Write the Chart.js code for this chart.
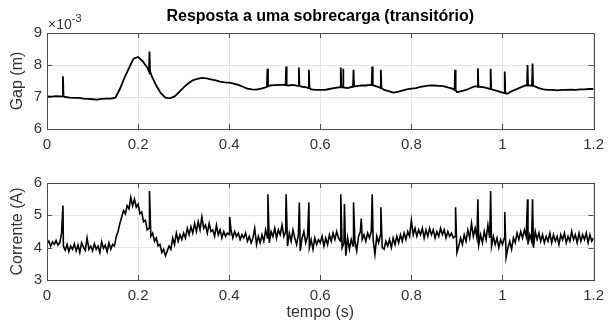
<!DOCTYPE html>
<html>
<head>
<meta charset="utf-8">
<script src="https://cdn.jsdelivr.net/npm/chart.js@4.4.1/dist/chart.umd.min.js"></script>
<style>
  html, body { margin: 0; padding: 0; background: #fff; }
  #wrap { position: relative; width: 611px; height: 329px; overflow: hidden; background: #fff; }
  #gapCanvas { position: absolute; left: 0; top: 0; }
  #currentCanvas { position: absolute; left: 0; top: 150px; }
</style>
</head>
<body>
<div id="wrap">
  <canvas id="gapCanvas" width="611" height="160"></canvas>
  <canvas id="currentCanvas" width="611" height="179"></canvas>
</div>
<script>
// ---- Data -------------------------------------------------------------
const xTicks = [0, 0.2, 0.4, 0.6, 0.8, 1, 1.2];
const gapTicks = [6, 7, 8, 9];        // x 10^-3 m
const currentTicks = [3, 4, 5, 6];    // A

// Air gap (x 10^-3 m), sampled every 10 ms from 0 to 1.2 s
const gapStep = 0.01;
const gapBase = [
  7.02, 7.01, 7.03, 7.02, 7.00, 6.98, 6.97, 6.97, 6.95, 6.94,
  6.93, 6.92, 6.94, 6.95, 6.95, 6.98, 7.25, 7.60, 7.90, 8.20,
  8.25, 8.12, 7.92, 7.65, 7.35, 7.12, 6.98, 6.96, 7.02, 7.15,
  7.30, 7.42, 7.52, 7.57, 7.60, 7.58, 7.55, 7.52, 7.48, 7.46,
  7.45, 7.42, 7.38, 7.32, 7.26, 7.24, 7.23, 7.26, 7.30, 7.36,
  7.37, 7.38, 7.38, 7.36, 7.38, 7.35, 7.32, 7.30, 7.24, 7.22,
  7.22, 7.22, 7.25, 7.28, 7.30, 7.30, 7.28, 7.32, 7.34, 7.36,
  7.36, 7.38, 7.35, 7.30, 7.22, 7.18, 7.14, 7.16, 7.20, 7.24,
  7.26, 7.28, 7.32, 7.34, 7.36, 7.36, 7.35, 7.34, 7.30, 7.26,
  7.15, 7.18, 7.22, 7.28, 7.34, 7.32, 7.30, 7.26, 7.22, 7.18,
  7.14, 7.10, 7.18, 7.24, 7.30, 7.36, 7.36, 7.34, 7.28, 7.24,
  7.22, 7.22, 7.21, 7.22, 7.22, 7.23, 7.22, 7.24, 7.24, 7.25, 7.25
];
// Short gap spikes: time (s), level at the foot, peak level
const gapSpikeTimes = [0.035, 0.225, 0.484, 0.525, 0.553, 0.575, 0.645, 0.650, 0.673, 0.714, 0.733, 0.896, 0.946, 0.974, 1.005, 1.055, 1.066];
const gapSpikeFoot  = [7.02, 7.80, 7.33, 7.37, 7.35, 7.28, 7.30, 7.30, 7.33, 7.37, 7.28, 7.22, 7.32, 7.25, 7.12, 7.36, 7.35];
const gapSpikePeak  = [7.65, 8.42, 7.88, 7.95, 7.92, 7.85, 7.92, 7.88, 7.85, 7.95, 7.85, 7.85, 7.90, 7.88, 7.80, 8.00, 8.05];

// Coil current (A), sampled every 4 ms from 0 to 1.2 s
const currentStep = 0.004;
const currentBase = [
  4.12, 4.20, 4.05, 4.18, 4.10, 4.22, 4.08, 4.15, 4.45, 4.05, 3.92, 4.10, 3.88, 4.05, 3.95, 4.12, 3.90, 4.08, 3.85, 4.15, 4.02, 3.92, 4.30, 3.95, 4.05,
  3.90, 4.12, 3.95, 4.05, 3.85, 4.18, 3.98, 4.08, 3.88, 4.15, 3.95, 4.10, 4.05, 4.35, 4.50, 4.75, 4.95, 5.15, 5.05, 5.30, 5.20, 5.55, 5.30, 5.50, 5.25,
  5.35, 5.05, 5.10, 4.80, 4.85, 4.55, 4.60, 4.35, 4.45, 4.20, 4.30, 4.05, 4.10, 3.85, 3.95, 3.75, 3.90, 4.05, 3.95, 4.30, 4.10, 4.45, 4.20, 4.40, 4.25,
  4.45, 4.30, 4.60, 4.40, 4.65, 4.45, 4.75, 4.50, 4.80, 4.55, 4.95, 4.60, 4.70, 4.45, 4.75, 4.50, 4.55, 4.35, 4.70, 4.40, 4.55, 4.30, 4.50, 4.35, 4.45,
  4.40, 4.55, 4.30, 4.50, 4.35, 4.45, 4.25, 4.40, 4.30, 4.45, 4.20, 4.35, 4.15, 4.30, 4.60, 4.10, 4.35, 4.15, 4.40, 4.20, 4.55, 4.30, 4.15, 4.50, 4.35,
  4.60, 4.30, 4.55, 4.40, 4.70, 4.35, 4.50, 4.05, 4.45, 4.20, 4.55, 4.30, 4.10, 4.40, 3.90, 4.30, 4.50, 4.15, 4.35, 4.00, 4.25, 3.95, 4.30, 4.10, 4.25,
  4.15, 4.35, 4.05, 4.30, 4.10, 4.40, 4.20, 4.45, 4.25, 4.50, 4.30, 4.20, 4.00, 4.15, 3.75, 4.30, 3.95, 4.25, 4.05, 4.20, 3.90, 4.35, 4.50, 4.25, 4.40,
  4.20, 4.45, 4.30, 4.50, 4.25, 3.80, 4.35, 4.15, 4.40, 4.00, 3.95, 4.20, 4.05, 4.25, 4.00, 4.30, 4.10, 4.35, 4.15, 4.40, 4.20, 4.45, 4.25, 4.50, 4.35,
  4.85, 4.40, 4.60, 4.35, 4.55, 4.40, 4.60, 4.30, 4.55, 4.35, 4.60, 4.40, 4.55, 4.30, 4.50, 4.35, 4.60, 4.40, 4.55, 4.30, 4.50, 4.35, 4.45, 4.30, 4.35,
  3.85, 4.05, 4.30, 4.10, 4.40, 4.20, 4.55, 4.30, 4.75, 4.35, 4.60, 4.30, 4.10, 4.40, 4.15, 4.50, 4.25, 4.70, 4.30, 4.05, 4.35, 4.10, 4.30, 4.00, 4.25,
  4.10, 4.30, 3.70, 4.00, 4.20, 3.95, 4.30, 4.15, 4.45, 4.25, 4.50, 4.30, 4.55, 4.35, 4.10, 4.40, 4.20, 4.00, 4.50, 4.25, 4.45, 4.20, 4.40, 4.15, 4.35,
  4.20, 4.45, 4.15, 4.40, 4.20, 4.35, 4.10, 4.40, 4.25, 4.45, 4.15, 4.35, 4.20, 4.50, 4.25, 4.40, 4.15, 4.45, 4.20, 4.40, 4.25, 4.45, 4.15, 4.40, 4.20, 4.30
];
// Current spikes: time (s), peak level (A)
const currentSpikeTimes = [0.035, 0.225, 0.401, 0.485, 0.525, 0.554, 0.575, 0.645, 0.653, 0.673, 0.690, 0.714, 0.733, 0.897, 0.946, 0.974, 1.005, 1.055, 1.066];
const currentSpikePeak  = [5.30, 5.75, 4.95, 5.65, 5.65, 5.40, 5.40, 5.65, 5.35, 5.40, 4.90, 5.65, 5.25, 5.25, 5.50, 5.75, 5.10, 5.50, 5.50];

// ---- Series assembly ------------------------------------------------------
function gapSeries() {
  const pts = gapBase.map((v, i) => ({ x: +(i * gapStep).toFixed(4), y: v }));
  gapSpikeTimes.forEach((t, i) => {
    pts.push({ x: t - 0.0012, y: gapSpikeFoot[i] });
    pts.push({ x: t, y: gapSpikePeak[i] });
    pts.push({ x: t + 0.0012, y: gapSpikeFoot[i] });
  });
  return pts.sort((a, b) => a.x - b.x);
}
function currentSeries() {
  const pts = currentBase.map((v, i) => ({ x: +(i * currentStep).toFixed(4), y: v }));
  currentSpikeTimes.forEach((t, i) => pts.push({ x: t, y: currentSpikePeak[i] }));
  return pts.sort((a, b) => a.x - b.x);
}

// ---- Styling helpers ----------------------------------------------------
const FONT = '"Liberation Sans", Arial, Helvetica, sans-serif';
const TICK_COLOR = '#333333';
const GRID_COLOR = '#e3e3e3';
const FRAME_COLOR = '#4d4d4d';

// Box around the axes plus inward tick marks on all four sides
const frameBox = {
  id: 'frameBox',
  afterDraw(chart, args, opts) {
    const { ctx, chartArea: a, scales } = chart;
    ctx.save();
    ctx.strokeStyle = FRAME_COLOR;
    ctx.lineWidth = 1;
    const L = 5;
    ctx.beginPath();
    scales.x.ticks.forEach(t => {
      const px = Math.round(scales.x.getPixelForValue(t.value)) + 0.5;
      ctx.moveTo(px, a.bottom); ctx.lineTo(px, a.bottom - L);
      ctx.moveTo(px, a.top); ctx.lineTo(px, a.top + L);
    });
    scales.y.ticks.forEach(t => {
      const py = Math.round(scales.y.getPixelForValue(t.value)) + 0.5;
      ctx.moveTo(a.left, py); ctx.lineTo(a.left + L, py);
      ctx.moveTo(a.right, py); ctx.lineTo(a.right - L, py);
    });
    ctx.stroke();
    ctx.strokeRect(Math.round(a.left) + 0.5, Math.round(a.top) + 0.5,
                   Math.round(a.right - a.left), Math.round(a.bottom - a.top));

    if (opts.title) {
      ctx.fillStyle = '#000';
      ctx.font = 'bold 16px ' + FONT;
      ctx.textAlign = 'center';
      ctx.textBaseline = 'middle';
      ctx.fillText(opts.title, (a.left + a.right) / 2, 17);
    }
    if (opts.exponent) {
      ctx.fillStyle = TICK_COLOR;
      ctx.textBaseline = 'alphabetic';
      ctx.textAlign = 'left';
      ctx.font = '14px ' + FONT;
      ctx.fillText('\u00d710', a.left + 1, 29);
      const w = ctx.measureText('\u00d710').width;
      ctx.font = '11px ' + FONT;
      ctx.fillText(opts.exponent, a.left + 1 + w, 22);
    }
    ctx.restore();
  }
};

function makeOptions({ yMin, yMax, yTitle, xTitle, padTop, xHeight, frame }) {
  return {
    responsive: false,
    animation: false,
    events: [],
    layout: { padding: { top: padTop, right: 11, left: 0, bottom: 0 } },
    plugins: { legend: { display: false }, tooltip: { enabled: false }, frameBox: frame },
    scales: {
      x: {
        type: 'linear', min: 0, max: 1.2,
        afterBuildTicks: s => { s.ticks = xTicks.map(v => ({ value: v })); },
        afterFit: s => { s.height = xHeight; },
        grid: { color: GRID_COLOR, drawTicks: false },
        border: { display: false },
        ticks: { color: TICK_COLOR, font: { family: FONT, size: 15 }, padding: 7, maxRotation: 0,
                 callback: v => String(+v.toFixed(1)) },
        title: { display: !!xTitle, text: xTitle, color: TICK_COLOR,
                 font: { family: FONT, size: 16 }, padding: { top: 0, bottom: 6.4 } }
      },
      y: {
        min: yMin, max: yMax,
        afterBuildTicks: s => {
          const list = yMin === 6 ? gapTicks : currentTicks;
          s.ticks = list.map(v => ({ value: v }));
        },
        afterFit: s => { s.width = 47; },
        grid: { color: GRID_COLOR, drawTicks: false },
        border: { display: false },
        ticks: { color: TICK_COLOR, font: { family: FONT, size: 15 }, padding: 5 },
        title: { display: true, text: yTitle, color: TICK_COLOR,
                 font: { family: FONT, size: 16 }, padding: { top: 8.4, bottom: 0 } }
      }
    }
  };
}

new Chart(document.getElementById('gapCanvas'), {
  type: 'line',
  data: { datasets: [{ data: gapSeries(), borderColor: '#000', borderWidth: 1.8,
                       pointRadius: 0, tension: 0, fill: false }] },
  options: makeOptions({ yMin: 6, yMax: 9, yTitle: 'Gap (m)', xTitle: '', padTop: 33, xHeight: 31,
                         frame: { title: 'Resposta a uma sobrecarga (transitório)', exponent: '-3' } }),
  plugins: [frameBox]
});

new Chart(document.getElementById('currentCanvas'), {
  type: 'line',
  data: { datasets: [{ data: currentSeries(), borderColor: '#000', borderWidth: 1.6,
                       pointRadius: 0, tension: 0, fill: false }] },
  options: makeOptions({ yMin: 3, yMax: 6, yTitle: 'Corrente (A)', xTitle: 'tempo (s)', padTop: 33, xHeight: 49,
                         frame: {} }),
  plugins: [frameBox]
});
</script>
</body>
</html>
